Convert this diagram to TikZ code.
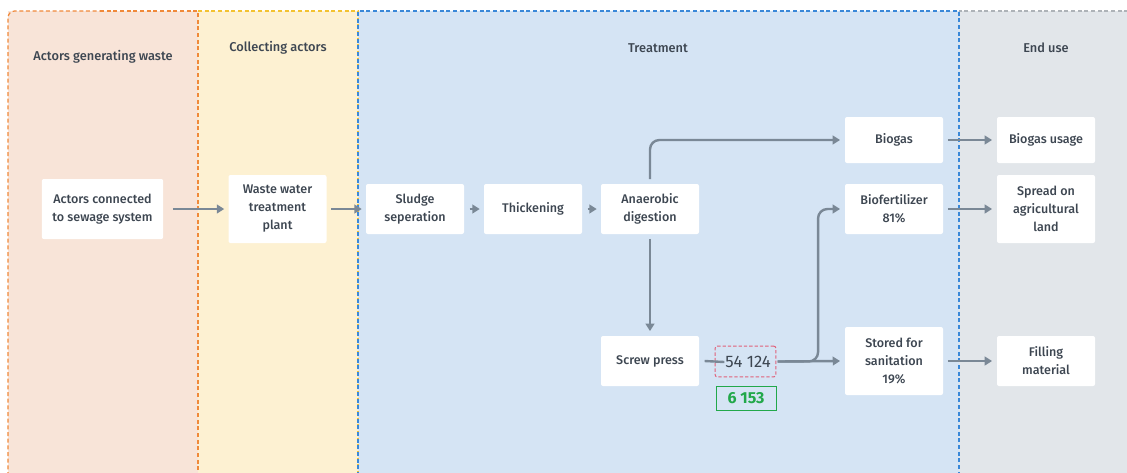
\documentclass[tikz,border=0pt]{standalone}
\usepackage{fontspec}
\setmainfont{Fira Sans}[UprightFont=* Medium, BoldFont=* Bold]
\newfontfamily\plainfont{Fira Sans}
\usetikzlibrary{arrows.meta, positioning, fit, calc}
\definecolor{txtgray}{HTML}{3D4651}
\definecolor{flowgray}{HTML}{7A8896}
\definecolor{lanepeach}{HTML}{F8E4D8}
\definecolor{lanecream}{HTML}{FDF1D2}
\definecolor{laneblue}{HTML}{D5E4F4}
\definecolor{lanegray}{HTML}{E2E6EA}
\definecolor{edgeorange}{HTML}{F0893A}
\definecolor{edgeyellow}{HTML}{F3C230}
\definecolor{edgeblue}{HTML}{3A88D8}
\definecolor{edgegray}{HTML}{AEB3B8}
\definecolor{numpink}{HTML}{E0607A}
\definecolor{numgreen}{HTML}{22A84A}

\begin{document}
\begin{tikzpicture}[x=0.75pt, y=-0.75pt,
  lane/.style={dash pattern=on 3pt off 2pt, line width=0.9pt},
  lanetitle/.style={font=\fontsize{9.6}{11}\selectfont, text=txtgray},
  box/.style={fill=white, rounded corners=1.5pt, font=\fontsize{9.4}{13.5}\selectfont, text=txtgray, align=center, minimum width=73.5pt, minimum height=37.5pt, inner sep=1pt},
  widebox/.style={box, minimum width=91pt, minimum height=45pt},
  tallbox/.style={box, minimum height=51pt},
  flow/.style={draw=flowgray, line width=1.8pt, -{Triangle[length=5.5pt, width=6.5pt]}},
  flowline/.style={draw=flowgray, line width=1.8pt},
]
\useasboundingbox (0,0) rectangle (1127,472);

% lanes
\begin{scope}
  \clip (0,0) rectangle (1127,472);
  \fill[lanepeach] (8,476) -- (8,11) -- (198,11) -- (198,476) -- cycle;
  \fill[lanecream] (198,11) rectangle (358,476);
  \fill[laneblue] (358,11) rectangle (959,476);
  \fill[lanegray] (959,11) rectangle (1135,476);
  \draw[lane, edgegray] (1135,11) -- (959,11);
  \draw[lane, edgeorange, rounded corners=5pt] (8,476) -- (8,11) -- (100,11);
  \draw[lane, edgeorange] (100,11) -- (198,11) -- (198,476);
  \draw[lane, edgeyellow] (198,11) -- (358,11) -- (358,476);
  \draw[lane, edgeblue] (358,476) -- (358,11) -- (959,11) -- (959,476);
\end{scope}

% lane titles
\node[lanetitle] (t1) at (103,57) {Actors generating waste};
\node[lanetitle] (t2) at (278,48) {Collecting actors};
\node[lanetitle] (t3) at (658,48) {Treatment};
\node[lanetitle] (t4) at (1046,48) {End use};

% steps
\node[widebox] (actors) at (102.5,209) {Actors connected\\to sewage system};
\node[tallbox] (wwtp) at (277.5,209) {Waste water\\treatment\\plant};
\node[box] (sludge) at (415,209) {Sludge\\seperation};
\node[box] (thick) at (533,209) {Thickening};
\node[box] (anaer) at (650,209) {Anaerobic\\digestion};
\node[box] (screw) at (650,361) {Screw press};
\node[box, minimum height=34.5pt] (biogas) at (894,140) {Biogas};
\node[box] (biofert) at (894,209) {Biofertilizer\\81\%};
\node[tallbox] (stored) at (894,361) {Stored for\\sanitation\\19\%};
\node[box, minimum height=34.5pt] (gasuse) at (1046,140) {Biogas usage};
\node[tallbox] (spread) at (1046,209) {Spread on\\agricultural\\land};
\node[box] (filling) at (1046,361) {Filling\\material};

% amounts
\node[font=\plainfont\fontsize{12.5}{13}\selectfont, text=txtgray, inner sep=0pt] (amount) at (748,362) {54 124};
\node[draw=numpink, dash pattern=on 2.5pt off 1.5pt, line width=0.75pt, rounded corners=1.5pt, minimum width=45.5pt, minimum height=23pt] (amountbox) at (745.5,361.5) {};
\node[draw=numgreen, line width=0.75pt, minimum width=45pt, minimum height=18pt, font=\fontsize{12}{13}\selectfont\bfseries, text=numgreen, inner sep=0pt] (saved) at (746,398) {6 153};

% connectors
\draw[flow] ([xshift=7pt]actors.east) -- ([xshift=-3pt]wwtp.west);
\draw[flow] ([xshift=3.5pt]wwtp.east) -- ([xshift=-3pt]sludge.west);
\draw[flow] ([xshift=4pt]sludge.east) -- ([xshift=-3pt]thick.west);
\draw[flow] ([xshift=4pt]thick.east) -- ([xshift=-3pt]anaer.west);
\draw[flow, rounded corners=7pt] ([yshift=3.5pt]anaer.north) |- ([xshift=-3.5pt]biogas.west);
\draw[flow] ([yshift=-3.5pt]anaer.south) -- ([yshift=3.5pt]screw.north);
\draw[flowline] ([xshift=4pt]screw.east) -- ([xshift=-0.5pt]amount.west);
\draw[flow] ([xshift=1pt]amountbox.east) -- ([xshift=-3.5pt]stored.west);
\draw[flow, rounded corners=7pt] ([xshift=1pt]amountbox.east) -| ([xshift=-20pt]biofert.west) -- ([xshift=-3.5pt]biofert.west);
\draw[flow] ([xshift=3.5pt]biogas.east) -- ([xshift=-3.5pt]gasuse.west);
\draw[flow] ([xshift=3.5pt]biofert.east) -- ([xshift=-3.5pt]spread.west);
\draw[flow] ([xshift=3.5pt]stored.east) -- ([xshift=-3.5pt]filling.west);

\end{tikzpicture}
\end{document}
